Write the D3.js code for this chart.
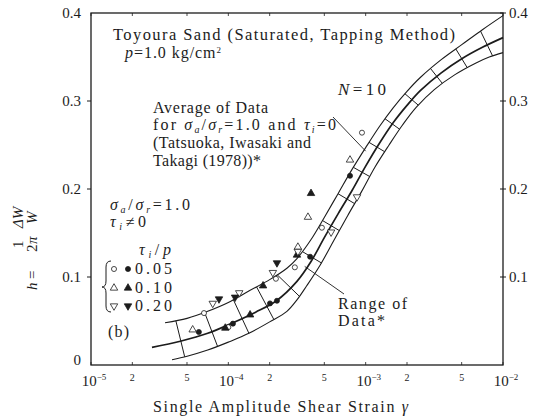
<!DOCTYPE html>
<html>
<head>
<meta charset="utf-8">
<script src="https://cdn.jsdelivr.net/npm/d3@7"></script>
<style>
body { margin: 0; background: #fff; }
svg text { font-family: "Liberation Serif", "DejaVu Serif", serif; fill: #1c1c1c; }
</style>
</head>
<body>
<div id="chart"></div>
<script>
var WIDTH = 547, HEIGHT = 420;
var INK = '#1c1c1c';

// axes
var xDecades = [1e-5, 1e-4, 1e-3, 1e-2];
var xDecadeLabels = ['-5', '-4', '-3', '-2'];
var xMinorTicks = [2e-5, 5e-5, 2e-4, 5e-4, 2e-3, 5e-3];
var xMinorLabels = ['2', '5', '2', '5', '2', '5'];
var yTicks = [0, 0.1, 0.2, 0.3, 0.4];
var yTickLabels = ['0', '0.1', '0.2', '0.3', '0.4'];

// N = 10 curves (mean and range of data)
var meanGamma = [2.78e-5, 4.47e-5, 7.08e-5, 1.08e-4, 1.58e-4, 2.24e-4, 3.16e-4, 3.98e-4, 5.01e-4, 6.31e-4, 7.94e-4, 1.0e-3, 1.26e-3, 1.58e-3, 2.0e-3, 2.51e-3, 3.55e-3, 5.01e-3, 7.08e-3, 1e-2];
var meanH     = [0.020, 0.027, 0.036, 0.048, 0.060, 0.073, 0.095, 0.117, 0.145, 0.172, 0.198, 0.226, 0.252, 0.275, 0.295, 0.312, 0.332, 0.348, 0.361, 0.372];
var upperGamma = [3.46e-5, 5.01e-5, 7.08e-5, 1e-4, 1.41e-4, 2.0e-4, 2.67e-4, 3.16e-4, 3.98e-4, 5.01e-4, 6.31e-4, 7.94e-4, 1e-3, 1.26e-3, 1.58e-3, 2.0e-3, 2.51e-3, 3.55e-3, 5.01e-3, 7.08e-3, 1e-2];
var upperH     = [0.048, 0.053, 0.061, 0.071, 0.084, 0.097, 0.110, 0.121, 0.142, 0.168, 0.195, 0.222, 0.247, 0.271, 0.292, 0.311, 0.327, 0.347, 0.364, 0.381, 0.397];
var lowerGamma = [3.89e-5, 5.01e-5, 7.08e-5, 1e-4, 1.41e-4, 2.0e-4, 2.67e-4, 3.16e-4, 3.72e-4, 4.68e-4, 5.89e-4, 7.41e-4, 9.33e-4, 1.17e-3, 1.48e-3, 1.86e-3, 2.34e-3, 3.16e-3, 4.47e-3, 6.31e-3, 7.94e-3, 1e-2];
var lowerH     = [0.006, 0.010, 0.017, 0.026, 0.036, 0.049, 0.061, 0.074, 0.090, 0.114, 0.142, 0.170, 0.197, 0.225, 0.250, 0.273, 0.293, 0.313, 0.330, 0.343, 0.350, 0.355];
// rungs across the band, placed on the mean curve
var rungGamma = [4.52e-5, 7.6e-5, 1.26e-4, 1.91e-4, 2.86e-4, 4.14e-4, 5.6e-4, 7.31e-4, 9.4e-4, 1.21e-3, 1.56e-3, 2.17e-3, 3.3e-3, 5.0e-3, 7.66e-3];

// test data, tau_i/p = 0.05, 0.10, 0.20 (open and solid)
var openCircleGamma = [6.65e-5, 1.0e-4, 2.22e-4, 3.05e-4, 4.8e-4, 9.4e-4];
var openCircleH     = [0.059, 0.043, 0.098, 0.111, 0.156, 0.264];
var dotGamma = [6.1e-5, 1.08e-4, 2.01e-4, 2.26e-4, 3.94e-4, 7.69e-4];
var dotH     = [0.0375, 0.047, 0.070, 0.073, 0.123, 0.215];
var openUpGamma = [5.5e-5, 3.21e-4, 3.8e-4, 7.69e-4];
var openUpH     = [0.040, 0.134, 0.168, 0.233];
var solidUpGamma = [9.5e-5, 1.44e-4, 1.79e-4, 3.16e-4, 4.0e-4];
var solidUpH     = [0.042, 0.057, 0.090, 0.125, 0.195];
var openDownGamma = [7.7e-5, 1.2e-4, 2.11e-4, 3.21e-4, 5.6e-4, 8.65e-4];
var openDownH     = [0.070, 0.082, 0.105, 0.129, 0.151, 0.191];
var solidDownGamma = [8.55e-5, 1.12e-4, 2.26e-4];
var solidDownH     = [0.075, 0.077, 0.116];

var legendLabels = ['0.05', '0.10', '0.20'];

var svg = d3.select('#chart').append('svg')
    .attr('width', WIDTH)
    .attr('height', HEIGHT);

var x = d3.scaleLog().domain([1e-5, 1e-2]).range([91, 503]);
var y = d3.scaleLinear().domain([0, 0.4]).range([365, 13]);

// frame
svg.append('rect')
    .attr('x', x(1e-5)).attr('y', y(0.4))
    .attr('width', x(1e-2) - x(1e-5)).attr('height', y(0) - y(0.4))
    .attr('fill', 'none').attr('stroke', INK).attr('stroke-width', 1.3);

// x ticks (inside, bottom and top)
var allX = xDecades.concat(xMinorTicks);
allX.forEach(function(v) {
    svg.append('line').attr('x1', x(v)).attr('x2', x(v))
        .attr('y1', y(0)).attr('y2', y(0) - 3)
        .attr('stroke', INK).attr('stroke-width', 0.8);
    svg.append('line').attr('x1', x(v)).attr('x2', x(v))
        .attr('y1', y(0.4)).attr('y2', y(0.4) + 3)
        .attr('stroke', INK).attr('stroke-width', 0.8);
});
xDecades.forEach(function(v, i) {
    var t = svg.append('text')
        .attr('x', x(v) + 3).attr('y', 386)
        .attr('text-anchor', 'middle')
        .style('font-size', '15px');
    t.append('tspan').text('10');
    t.append('tspan').text(xDecadeLabels[i].replace('-', '\u2212'))
        .attr('dy', -6).style('font-size', '9px');
});
xMinorTicks.forEach(function(v, i) {
    svg.append('text')
        .attr('x', x(v)).attr('y', 381)
        .attr('text-anchor', 'middle')
        .style('font-size', '10px')
        .text(xMinorLabels[i]);
});

// y ticks, left and right
yTicks.forEach(function(v, i) {
    if (v > 0 && v < 0.4) {
        svg.append('line').attr('x1', x(1e-5) - 4).attr('x2', x(1e-5))
            .attr('y1', y(v)).attr('y2', y(v)).attr('stroke', INK);
    }
    if (v > 0) {
        svg.append('line').attr('x1', x(1e-2) - 3).attr('x2', x(1e-2) + 3)
            .attr('y1', y(v)).attr('y2', y(v)).attr('stroke', INK);
    }
    svg.append('text')
        .attr('x', 81).attr('y', v === 0 ? y(v) : y(v) + 5)
        .attr('text-anchor', 'end')
        .style('font-size', '15px')
        .text(yTickLabels[i]);
    if (v > 0) {
        svg.append('text')
            .attr('x', 509).attr('y', y(v) + 5)
            .style('font-size', '15px')
            .text(yTickLabels[i]);
    }
});

// curves
function zipPts(g, h) { return g.map(function(d, i) { return [d, h[i]]; }); }
var line = d3.line()
    .x(function(d) { return x(d[0]); })
    .y(function(d) { return y(d[1]); })
    .curve(d3.curveCatmullRom.alpha(0.5));

var upperPath = svg.append('path').attr('d', line(zipPts(upperGamma, upperH)))
    .attr('fill', 'none').attr('stroke', INK).attr('stroke-width', 1.1);
var lowerPath = svg.append('path').attr('d', line(zipPts(lowerGamma, lowerH)))
    .attr('fill', 'none').attr('stroke', INK).attr('stroke-width', 1.1);
var meanPath = svg.append('path').attr('d', line(zipPts(meanGamma, meanH)))
    .attr('fill', 'none').attr('stroke', INK).attr('stroke-width', 1.7);

function samplePath(node) {
    var L = node.getTotalLength(), pts = [];
    for (var s = 0; s <= L; s += 0.5) {
        var p = node.getPointAtLength(s);
        pts.push([p.x, p.y]);
    }
    return pts;
}
var meanPts = samplePath(meanPath.node());
var upperPts = samplePath(upperPath.node());
var lowerPts = samplePath(lowerPath.node());

function onNormal(pts, P, t) {
    var best = null, bestD = Infinity;
    pts.forEach(function(q) {
        var dx = q[0] - P[0], dy = q[1] - P[1];
        if (dx * dx + dy * dy > 45 * 45) return;
        var along = Math.abs(dx * t[0] + dy * t[1]);
        if (along < bestD) { bestD = along; best = q; }
    });
    return best;
}

rungGamma.forEach(function(g) {
    var px = x(g), k = 0, bd = Infinity;
    meanPts.forEach(function(p, i) {
        if (Math.abs(p[0] - px) < bd) { bd = Math.abs(p[0] - px); k = i; }
    });
    var a = meanPts[Math.max(0, k - 4)], b = meanPts[Math.min(meanPts.length - 1, k + 4)];
    var tx = b[0] - a[0], ty = b[1] - a[1], len = Math.sqrt(tx * tx + ty * ty);
    var t = [tx / len, ty / len];
    var P = meanPts[k];
    var qu = onNormal(upperPts, P, t), ql = onNormal(lowerPts, P, t);
    if (qu && ql) {
        svg.append('line')
            .attr('x1', qu[0]).attr('y1', qu[1])
            .attr('x2', ql[0]).attr('y2', ql[1])
            .attr('stroke', INK).attr('stroke-width', 1);
    }
});

// symbols
var SYM = 24;
function drawSet(gs, hs, type, filled, rot) {
    gs.forEach(function(g, i) {
        svg.append('path')
            .attr('d', d3.symbol().type(type).size(type === d3.symbolCircle ? 20 : SYM)())
            .attr('transform', 'translate(' + x(g) + ',' + y(hs[i]) + ') rotate(' + rot + ')')
            .attr('fill', filled ? INK : '#fff')
            .attr('stroke', INK).attr('stroke-width', 0.8);
    });
}
drawSet(openCircleGamma, openCircleH, d3.symbolCircle, false, 0);
drawSet(dotGamma, dotH, d3.symbolCircle, true, 0);
drawSet(openUpGamma, openUpH, d3.symbolTriangle, false, 0);
drawSet(solidUpGamma, solidUpH, d3.symbolTriangle, true, 0);
drawSet(openDownGamma, openDownH, d3.symbolTriangle, false, 180);
drawSet(solidDownGamma, solidDownH, d3.symbolTriangle, true, 180);

// rich text helper: parts = [text, italic, dy, size]
function rich(px, py, parts, len, size) {
    var t = svg.append('text').attr('x', px).attr('y', py)
        .style('font-size', (size || 15) + 'px');
    if (len) t.attr('textLength', len).attr('lengthAdjust', 'spacing');
    parts.forEach(function(p) {
        var s = t.append('tspan').text(p[0]);
        if (p[1]) s.style('font-style', 'italic');
        if (p[2]) s.attr('dy', p[2]);
        if (p[3]) s.style('font-size', p[3] + 'px');
    });
    return t;
}

rich(113, 40, [['Toyoura Sand (Saturated, Tapping Method)']], 342, 16.5);
rich(125, 58, [['p', 1], ['=1.0 kg/cm'], ['2', 0, -5, 9]], 96, 16);

rich(153, 113, [['Average of Data']], 115, 16);
rich(153, 130, [['for '], ['\u03c3', 1], ['a', 1, 3, 10], ['/', 0, -3], ['\u03c3', 1], ['r', 1, 3, 10],
    ['=1.0 and ', 0, -3], ['\u03c4', 1], ['i', 1, 3, 10], ['=0', 0, -3]], 183, 16);
rich(153, 148, [['(Tatsuoka, Iwasaki and']], 158, 16);
rich(153, 166, [['Takagi (1978))*']], 108, 16);
rich(338, 95, [['N', 1], ['=10']], 48, 17);

rich(110, 210, [['\u03c3', 1], ['a', 1, 3, 10], ['/', 0, -3], ['\u03c3', 1], ['r', 1, 3, 10], ['=1.0', 0, -3]], 80, 16);
rich(110, 227, [['\u03c4', 1], ['i', 1, 3, 10], ['\u2260', 0, -3], ['0']], 36, 16);
rich(139, 255, [['\u03c4', 1], ['i', 1, 3, 10], ['/', 0, -3], ['p', 1]], 32, 16);

// legend
var legendTypes = [d3.symbolCircle, d3.symbolTriangle, d3.symbolTriangle];
var legendRot = [0, 0, 180];
var legendRowY = [269, 288, 306];
legendLabels.forEach(function(lab, i) {
    var ly = legendRowY[i];
    var sz = legendTypes[i] === d3.symbolCircle ? 20 : SYM;
    svg.append('path').attr('d', d3.symbol().type(legendTypes[i]).size(sz)())
        .attr('transform', 'translate(114,' + ly + ') rotate(' + legendRot[i] + ')')
        .attr('fill', '#fff').attr('stroke', INK).attr('stroke-width', 0.8);
    svg.append('path').attr('d', d3.symbol().type(legendTypes[i]).size(sz)())
        .attr('transform', 'translate(128,' + ly + ') rotate(' + legendRot[i] + ')')
        .attr('fill', INK).attr('stroke', INK).attr('stroke-width', 0.8);
    rich(135, ly + 5, [[lab]], 37, 16);
});
svg.append('path')
    .attr('d', 'M111,261 Q106,261 106,267 L106,281 Q106,287 102,287 Q106,287 106,293 L106,306 Q106,312 111,312')
    .attr('fill', 'none').attr('stroke', INK).attr('stroke-width', 1);

rich(108, 337, [['(b)']], 21, 16);
rich(338, 309, [['Range of']], 69, 16);
rich(338, 326, [['Data*']], 47, 16);

// leader lines
svg.append('line').attr('x1', 333).attr('y1', 117).attr('x2', x(1.0e-3)).attr('y2', y(0.243))
    .attr('stroke', INK).attr('stroke-width', 0.9);
svg.append('line').attr('x1', 344).attr('y1', 294).attr('x2', x(3.6e-4)).attr('y2', y(0.112))
    .attr('stroke', INK).attr('stroke-width', 0.9);

// axis titles
rich(153, 412, [['Single Amplitude Shear Strain '], ['\u03b3', 1]], 255, 16);

var yl = svg.append('g').attr('transform', 'translate(37,290) rotate(-90)');
function ylText(u, v, str, ital) {
    var t = yl.append('text').attr('x', u).attr('y', v).style('font-size', '15px').text(str);
    if (ital) t.style('font-style', 'italic');
}
ylText(0, 0, 'h', true);
ylText(11, 0, '=', false);
ylText(42, -14, '1', false);
ylText(38, 0, '2', false);
ylText(46, 0, '\u03c0', true);
ylText(62, -14, '\u0394W', true);
ylText(66, 0, 'W', true);
</script>
</body>
</html>
